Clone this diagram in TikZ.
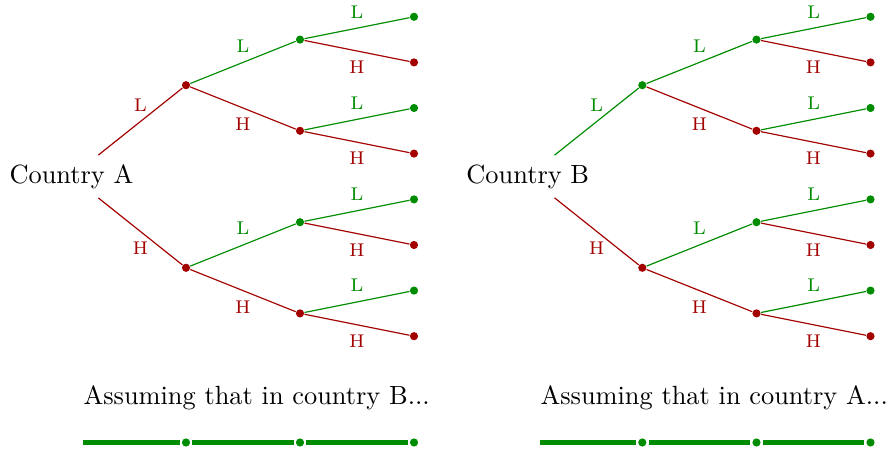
\documentclass[tikz,border=0pt]{standalone}
\usepackage{tikz}
\usetikzlibrary{positioning}

\definecolor{lowgreen}{RGB}{0,140,0}
\definecolor{highred}{RGB}{163,0,0}

\begin{document}
\begin{tikzpicture}[
    x=0.3795pt, y=-0.3795pt,
    root/.style={font=\normalsize},
    gdot/.style={circle, fill=lowgreen, inner sep=0pt, minimum size=3.1pt},
    rdot/.style={circle, fill=highred, inner sep=0pt, minimum size=3.1pt},
    bdot/.style={gdot, outer sep=0.8pt},
    lo/.style={lowgreen, line width=0.45pt},
    hi/.style={highred, line width=0.45pt},
    llab/.style={midway, above=2.6pt, font=\scriptsize, inner sep=1pt},
    hlab/.style={midway, below=2.6pt, font=\scriptsize, inner sep=1pt},
    bar/.style={lowgreen, line width=1.6pt},
  ]
    \useasboundingbox (0,0) rectangle (892,452);

    % Country A
    \node[root] (ca) at (71.5,176.5) {Country A};
    \node[rdot] (a1) at (186,85.2) {};
    \node[rdot] (a2) at (186,267.8) {};
    \node[gdot] (a11) at (300,39.6) {};
    \node[rdot] (a12) at (300,130.8) {};
    \node[gdot] (a21) at (300,222.2) {};
    \node[rdot] (a22) at (300,313.4) {};
    \node[gdot] (a111) at (414,16.8) {};
    \node[rdot] (a112) at (414,62.4) {};
    \node[gdot] (a121) at (414,108) {};
    \node[rdot] (a122) at (414,153.6) {};
    \node[gdot] (a211) at (414,199.4) {};
    \node[rdot] (a212) at (414,245) {};
    \node[gdot] (a221) at (414,290.6) {};
    \node[rdot] (a222) at (414,336.2) {};

    \draw[hi] (ca) -- (a1) node[llab] {L};
    \draw[hi] (ca) -- (a2) node[hlab] {H};
    \draw[lo] (a1) -- (a11) node[llab] {L};
    \draw[hi] (a1) -- (a12) node[hlab] {H};
    \draw[lo] (a2) -- (a21) node[llab] {L};
    \draw[hi] (a2) -- (a22) node[hlab] {H};
    \draw[lo] (a11) -- (a111) node[llab] {L};
    \draw[hi] (a11) -- (a112) node[hlab] {H};
    \draw[lo] (a12) -- (a121) node[llab] {L};
    \draw[hi] (a12) -- (a122) node[hlab] {H};
    \draw[lo] (a21) -- (a211) node[llab] {L};
    \draw[hi] (a21) -- (a212) node[hlab] {H};
    \draw[lo] (a22) -- (a221) node[llab] {L};
    \draw[hi] (a22) -- (a222) node[hlab] {H};

    % Country B
    \node[root] (cb) at (527.8,176.5) {Country B};
    \node[gdot] (b1) at (642.3,85.2) {};
    \node[rdot] (b2) at (642.3,267.8) {};
    \node[gdot] (b11) at (756.5,39.6) {};
    \node[rdot] (b12) at (756.5,130.8) {};
    \node[gdot] (b21) at (756.5,222.2) {};
    \node[rdot] (b22) at (756.5,313.4) {};
    \node[gdot] (b111) at (870.5,16.8) {};
    \node[rdot] (b112) at (870.5,62.4) {};
    \node[gdot] (b121) at (870.5,108) {};
    \node[rdot] (b122) at (870.5,153.6) {};
    \node[gdot] (b211) at (870.5,199.4) {};
    \node[rdot] (b212) at (870.5,245) {};
    \node[gdot] (b221) at (870.5,290.6) {};
    \node[rdot] (b222) at (870.5,336.2) {};

    \draw[lo] (cb) -- (b1) node[llab] {L};
    \draw[hi] (cb) -- (b2) node[hlab] {H};
    \draw[lo] (b1) -- (b11) node[llab] {L};
    \draw[hi] (b1) -- (b12) node[hlab] {H};
    \draw[lo] (b2) -- (b21) node[llab] {L};
    \draw[hi] (b2) -- (b22) node[hlab] {H};
    \draw[lo] (b11) -- (b111) node[llab] {L};
    \draw[hi] (b11) -- (b112) node[hlab] {H};
    \draw[lo] (b12) -- (b121) node[llab] {L};
    \draw[hi] (b12) -- (b122) node[hlab] {H};
    \draw[lo] (b21) -- (b211) node[llab] {L};
    \draw[hi] (b21) -- (b212) node[hlab] {H};
    \draw[lo] (b22) -- (b221) node[llab] {L};
    \draw[hi] (b22) -- (b222) node[hlab] {H};

    % Captions and bars
    \node[anchor=base west, inner sep=0pt] (capa) at (83,405) {Assuming that in country B...};
    \node[anchor=base west, inner sep=0pt] (capb) at (540,405) {Assuming that in country A...};

    \coordinate (sa) at (83,442.5);
    \node[bdot] (pa1) at (186,442.5) {};
    \node[bdot] (pa2) at (300,442.5) {};
    \node[bdot] (pa3) at (414,442.5) {};
    \draw[bar] (sa) -- (pa1) -- (pa2) -- (pa3);

    \coordinate (sb) at (540,442.5);
    \node[bdot] (pb1) at (642.3,442.5) {};
    \node[bdot] (pb2) at (756.5,442.5) {};
    \node[bdot] (pb3) at (870.5,442.5) {};
    \draw[bar] (sb) -- (pb1) -- (pb2) -- (pb3);
\end{tikzpicture}
\end{document}
